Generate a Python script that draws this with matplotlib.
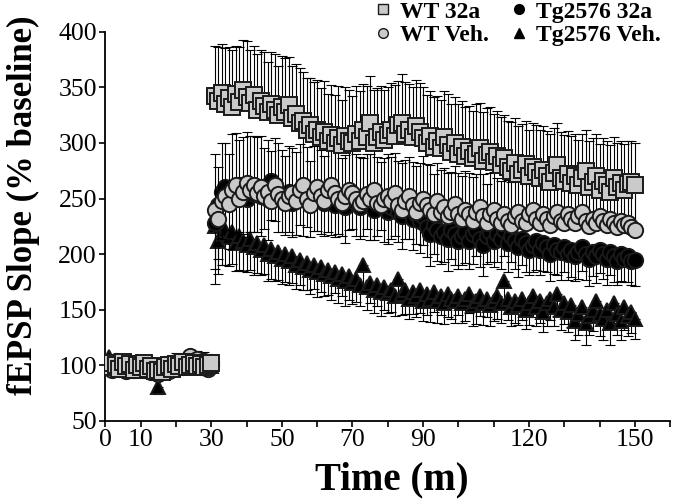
import numpy as np
import matplotlib
matplotlib.use('Agg')
import matplotlib.pyplot as plt
from matplotlib.lines import Line2D

# time in minutes, one point per minute
t_base = list(range(1, 31))
t_post = list(range(31, 151))

# WT 32a (grey squares), error bars up
wt32a_base = [98, 102, 100, 97, 103, 99, 101, 96, 100, 98, 102, 97, 99, 95, 96,
              94, 98, 100, 97, 101, 99, 103, 98, 100, 102, 99, 101, 98, 100, 102]
wt32a_post = [342, 338, 345, 335, 340, 332, 344, 337, 348, 341,
              336, 343, 330, 338, 333, 328, 335, 330, 325, 332,
              328, 334, 322, 326, 318, 320, 312, 316, 308, 312,
              305, 310, 302, 307, 300, 304, 298, 306, 302, 300,
              308, 302, 312, 305, 318, 300, 305, 310, 303, 307,
              312, 306, 316, 318, 308, 312, 305, 315, 310, 304,
              300, 306, 296, 302, 295, 305, 298, 292, 300, 290,
              296, 288, 293, 286, 290, 295, 284, 289, 292, 283,
              288, 280, 286, 278, 275, 282, 272, 276, 281, 270,
              278, 274, 268, 276, 270, 265, 273, 280, 268, 266,
              272, 264, 270, 262, 268, 275, 260, 265, 270, 258,
              266, 262, 256, 268, 260, 264, 258, 263, 265, 262]
wt32a_err_base = [6, 5, 7, 5, 6, 5, 7, 6, 5, 6, 7, 5, 6, 6, 5,
                  7, 6, 5, 6, 5, 7, 6, 5, 6, 6, 5, 7, 6, 5, 6]
wt32a_err_post = [45, 48, 44, 50, 46, 52, 43, 49, 45, 51,
                  48, 44, 50, 46, 49, 45, 47, 50, 44, 46,
                  48, 43, 47, 45, 49, 44, 46, 42, 47, 45,
                  44, 46, 42, 45, 43, 47, 41, 44, 46, 42,
                  43, 45, 41, 46, 42, 48, 44, 41, 45, 43,
                  42, 46, 40, 44, 47, 41, 45, 42, 44, 46,
                  43, 41, 45, 40, 44, 42, 46, 43, 41, 45,
                  42, 44, 40, 43, 45, 41, 44, 42, 40, 43,
                  41, 43, 39, 42, 44, 40, 43, 41, 39, 42,
                  40, 42, 44, 39, 41, 43, 40, 38, 42, 41,
                  39, 42, 38, 41, 40, 37, 42, 39, 38, 41,
                  38, 40, 42, 37, 40, 38, 41, 39, 37, 38]

# WT Veh. (grey circles), error bars up
wtveh_base = [100, 96, 104, 98, 102, 95, 100, 97, 99, 101, 96, 98, 94, 99, 92,
              97, 101, 95, 99, 103, 98, 104, 100, 108, 102, 106, 99, 104, 97, 103]
wtveh_post = [240, 232, 248, 252, 245, 258, 262, 250, 256, 264,
              258, 262, 255, 260, 252, 256, 248, 262, 254, 250,
              246, 252, 255, 248, 258, 262, 250, 244, 255, 260,
              252, 248, 258, 262, 255, 250, 246, 252, 258, 255,
              250, 245, 248, 254, 250, 258, 246, 244, 250, 252,
              248, 255, 244, 240, 248, 252, 244, 238, 246, 250,
              244, 240, 236, 248, 238, 242, 234, 238, 245, 236,
              232, 240, 236, 230, 238, 242, 234, 228, 236, 240,
              232, 228, 236, 230, 226, 234, 238, 230, 228, 236,
              240, 232, 228, 236, 232, 226, 234, 238, 230, 228,
              236, 232, 228, 234, 238, 230, 225, 232, 228, 234,
              230, 226, 232, 228, 224, 230, 226, 228, 224, 222]
wtveh_err_base = [6, 7, 5, 8, 6, 7, 5, 6, 8, 6, 7, 5, 6, 7, 8,
                  6, 5, 7, 6, 8, 5, 6, 7, 6, 5, 7, 6, 8, 6, 5]
wtveh_err_post = [50, 46, 52, 48, 45, 50, 47, 53, 49, 46,
                  48, 44, 50, 46, 43, 47, 45, 42, 46, 44,
                  42, 45, 40, 44, 41, 43, 46, 40, 42, 39,
                  42, 40, 38, 41, 39, 43, 40, 37, 41, 38,
                  40, 42, 38, 36, 40, 37, 41, 39, 36, 38,
                  39, 36, 40, 42, 37, 35, 39, 41, 36, 38,
                  37, 40, 36, 34, 38, 35, 39, 36, 34, 37,
                  38, 35, 37, 39, 34, 36, 38, 35, 37, 34,
                  36, 38, 35, 37, 39, 34, 36, 38, 35, 37,
                  34, 37, 39, 35, 36, 38, 34, 36, 38, 35,
                  36, 34, 37, 35, 33, 36, 38, 34, 36, 35,
                  35, 37, 34, 36, 38, 34, 36, 35, 37, 36]

# Tg2576 32a (black circles), error bars down
tg32a_base = [101, 98, 103, 97, 100, 99, 102, 96, 100, 98, 101, 97, 100, 96, 98,
              95, 99, 101, 97, 100, 102, 98, 101, 99, 103, 100, 98, 101, 99, 100]
tg32a_post = [228, 244, 256, 260, 250, 258, 254, 262, 256, 250,
              258, 254, 260, 252, 256, 250, 266, 262, 256, 254,
              250, 256, 246, 252, 258, 250, 254, 248, 256, 252,
              250, 246, 254, 248, 244, 251, 246, 242, 250, 254,
              246, 242, 248, 252, 244, 240, 246, 250, 242, 238,
              242, 246, 238, 234, 240, 244, 232, 236, 230, 234,
              224, 218, 226, 222, 216, 220, 214, 222, 218, 212,
              216, 220, 212, 218, 222, 214, 208, 216, 220, 212,
              218, 214, 222, 210, 216, 212, 206, 214, 210, 204,
              208, 212, 204, 210, 206, 200, 208, 204, 202, 206,
              200, 204, 198, 202, 206, 200, 196, 202, 198, 204,
              200, 196, 202, 198, 194, 200, 196, 198, 194, 195]
tg32a_err_base = [5, 4, 6, 5, 4, 5, 6, 4, 5, 5, 4, 6, 5, 4, 5,
                  6, 4, 5, 5, 4, 6, 5, 4, 5, 6, 4, 5, 5, 4, 6]
tg32a_err_post = [55, 48, 42, 38, 45, 40, 36, 42, 38, 35,
                  38, 34, 40, 36, 33, 37, 35, 32, 36, 34,
                  33, 36, 31, 35, 32, 34, 30, 33, 35, 31,
                  32, 30, 34, 31, 29, 33, 30, 32, 28, 31,
                  30, 28, 32, 29, 31, 27, 30, 28, 31, 29,
                  28, 30, 27, 29, 26, 30, 28, 27, 29, 26,
                  27, 29, 26, 28, 25, 27, 29, 26, 28, 25,
                  26, 28, 25, 27, 24, 26, 28, 25, 27, 24,
                  25, 27, 24, 26, 23, 25, 27, 24, 26, 23,
                  24, 26, 23, 25, 22, 24, 26, 23, 25, 22,
                  23, 25, 22, 24, 21, 23, 25, 22, 24, 21,
                  22, 24, 21, 23, 22, 24, 21, 23, 22, 24]

# Tg2576 Veh. (black triangles), error bars down
tgveh_base = [107, 100, 97, 102, 99, 101, 98, 100, 97, 102, 99, 96, 100, 98, 80,
              97, 100, 98, 101, 99, 100, 98, 102, 99, 101, 100, 98, 102, 100, 99]
tgveh_post = [225, 212, 218, 222, 215, 220, 210, 216, 212, 208,
              214, 206, 210, 204, 208, 200, 205, 198, 202, 196,
              200, 194, 198, 190, 195, 188, 192, 186, 190, 184,
              188, 182, 186, 180, 184, 178, 182, 176, 180, 174,
              178, 172, 190, 170, 174, 168, 172, 166, 170, 165,
              168, 162, 178, 164, 168, 160, 166, 162, 168, 158,
              164, 160, 166, 158, 162, 156, 164, 160, 158, 162,
              156, 160, 164, 154, 158, 162, 156, 160, 154, 158,
              162, 156, 176, 160, 152, 158, 154, 160, 150, 156,
              162, 152, 158, 148, 156, 160, 152, 164, 150, 156,
              148, 154, 140, 146, 152, 138, 144, 150, 158, 146,
              142, 150, 138, 156, 146, 140, 152, 144, 148, 142]
tgveh_err_base = [6, 5, 7, 5, 6, 5, 7, 6, 5, 6, 7, 5, 6, 5, 6,
                  7, 5, 6, 5, 7, 6, 5, 6, 7, 5, 6, 5, 7, 6, 5]
tgveh_err_post = [38, 30, 28, 32, 26, 29, 25, 30, 27, 24,
                  28, 25, 27, 23, 26, 24, 27, 22, 25, 23,
                  25, 22, 24, 21, 23, 20, 24, 22, 21, 23,
                  22, 20, 23, 21, 19, 22, 20, 23, 21, 19,
                  21, 19, 22, 20, 18, 21, 19, 22, 20, 18,
                  20, 18, 21, 19, 22, 18, 20, 19, 21, 18,
                  19, 21, 18, 20, 17, 19, 21, 18, 20, 17,
                  18, 20, 17, 19, 21, 18, 20, 17, 19, 18,
                  20, 18, 21, 19, 17, 20, 18, 19, 17, 20,
                  19, 17, 20, 18, 21, 19, 17, 20, 18, 19,
                  18, 20, 17, 19, 18, 20, 17, 19, 18, 20,
                  19, 17, 20, 18, 19, 17, 20, 18, 19, 18]

xlabels_shown = [0, 10, 30, 50, 70, 90, 120, 150]

plt.rcParams['font.family'] = ['Liberation Serif', 'DejaVu Serif']

fig = plt.figure(figsize=(6.75, 5.04), dpi=100)
ax = fig.add_axes([0.156, 0.165, 0.837, 0.772])

grey = '#cacaca'
edge = '#1a1a1a'
t = np.array(t_base + t_post)


def draw(vals, errs, up, marker, face, ms, z):
    v = np.array(vals)
    e = np.array(errs)
    if up:
        yerr = [np.zeros_like(e), e]
    else:
        yerr = [e, np.zeros_like(e)]
    ax.errorbar(t, v, yerr=yerr, fmt='none', ecolor='black', elinewidth=0.8,
                capsize=3.8, capthick=0.8, zorder=z)
    ax.plot(t, v, linestyle='none', marker=marker, markersize=ms,
            markerfacecolor=face, markeredgecolor=edge, markeredgewidth=1.4,
            zorder=z + 0.5)


draw(tgveh_base + tgveh_post, tgveh_err_base + tgveh_err_post, False, '^', 'black', 10, 2)
draw(tg32a_base + tg32a_post, tg32a_err_base + tg32a_err_post, False, 'o', 'black', 11, 3)
draw(wtveh_base + wtveh_post, wtveh_err_base + wtveh_err_post, True, 'o', grey, 11, 4)
draw(wt32a_base + wt32a_post, wt32a_err_base + wt32a_err_post, True, 's', grey, 11, 5)

ax.set_xlim(0, 160)
ax.set_ylim(50, 400)
ticks = list(range(0, 161, 10))
ax.set_xticks(ticks)
ax.set_xticklabels([str(k) if k in xlabels_shown else '' for k in ticks])
ax.set_yticks(range(50, 401, 50))
ax.tick_params(direction='out', length=4, width=1.2, labelsize=18.5, pad=2)
ax.spines['top'].set_visible(False)
ax.spines['right'].set_visible(False)
ax.spines['left'].set_linewidth(1.3)
ax.spines['bottom'].set_linewidth(1.3)

fig.text(392 / 675, 1 - 480 / 504, 'Time (m)', ha='center', va='center',
         fontsize=28, fontweight='bold')
fig.text(23 / 675, 1 - 205 / 504, 'fEPSP Slope (% baseline)', ha='center', va='center',
         rotation=90, fontsize=25, fontweight='bold')

handles = [
    Line2D([], [], linestyle='none', marker='s', markersize=7, markerfacecolor=grey,
           markeredgecolor=edge, markeredgewidth=1),
    Line2D([], [], linestyle='none', marker='o', markersize=7, markerfacecolor=grey,
           markeredgecolor=edge, markeredgewidth=1),
    Line2D([], [], linestyle='none', marker='o', markersize=7, markerfacecolor='black',
           markeredgecolor='black'),
    Line2D([], [], linestyle='none', marker='^', markersize=7, markerfacecolor='black',
           markeredgecolor='black'),
]
labels = ['WT 32a', 'WT Veh.', 'Tg2576 32a', 'Tg2576 Veh.']
fig.legend(handles, labels, loc='upper left', bbox_to_anchor=(376 / 675, 0.998),
           ncol=2, frameon=False, borderpad=0, borderaxespad=0,
           handlelength=0.6, handletextpad=0.4, columnspacing=1.0, labelspacing=0.1,
           prop={'family': 'Liberation Serif', 'weight': 'bold', 'size': 17})

fig.savefig('out.png', dpi=100)
